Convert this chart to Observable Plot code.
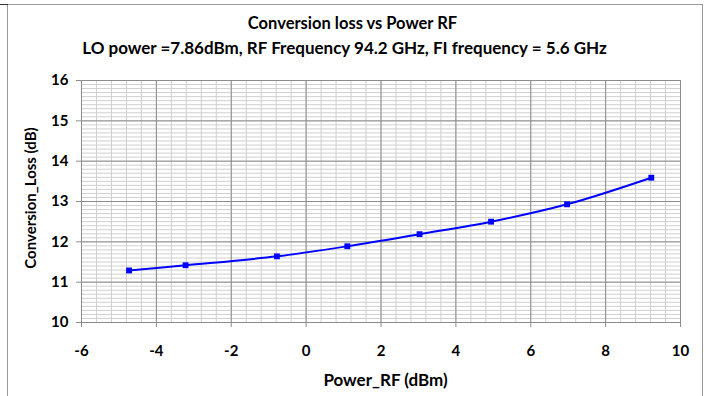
<!DOCTYPE html>
<html>
<head>
<meta charset="utf-8">
<script src="https://cdn.jsdelivr.net/npm/d3@7"></script>
<script src="https://cdn.jsdelivr.net/npm/@observablehq/plot@0.6"></script>
<style>
  html, body { margin: 0; padding: 0; background: #fff; }
  #wrap { position: relative; width: 709px; height: 396px; overflow: hidden; font-family: Lato, "Open Sans", sans-serif; font-weight: bold; }
  #frame { position: absolute; left: 7px; top: 4px; width: 696px; height: 400px; border: 1px solid #9a9a9a; box-sizing: border-box; }
  #corner { position: absolute; left: 0; top: 4px; width: 8px; height: 1px; background: #333; }
  .t { position: absolute; white-space: nowrap; color: #000; }
  #title { left: 0; width: 709px; text-align: center; top: 13px; font-size: 16.5px; margin-left: -2px; }
  #subtitle { left: 0; width: 709px; text-align: center; top: 37px; font-size: 17px; margin-left: -10px; }
  #xlabel { left: 0; width: 709px; text-align: center; top: 369px; font-size: 17px; margin-left: 31px; }
  #ylabel { left: 30px; top: 198px; font-size: 15px; transform: translate(-50%, -50%) rotate(-90deg); }
  svg { position: absolute; left: 0; top: 0; }
</style>
</head>
<body>
<div id="wrap">
  <div id="frame"></div>
  <div id="corner"></div>
  <div class="t" id="title">Conversion loss vs Power RF</div>
  <div class="t" id="subtitle">LO power =7.86dBm, RF Frequency 94.2 GHz, FI frequency = 5.6 GHz</div>
  <div class="t" id="xlabel">Power_RF (dBm)</div>
  <div class="t" id="ylabel">Conversion_Loss (dB)</div>
</div>
<script>
const powerRF = [-4.73, -3.22, -0.78, 1.10, 3.03, 4.94, 6.97, 9.22];
const convLoss = [11.29, 11.42, 11.64, 11.89, 12.19, 12.50, 12.93, 13.59];
const xTicks = [-6, -4, -2, 0, 2, 4, 6, 8, 10];
const yTicks = [10, 11, 12, 13, 14, 15, 16];
const xMinor = d3.range(0, 41).map(i => -6 + i * 0.4);
const yMinor = d3.range(0, 61).map(i => 10 + i * 0.1);

const data = powerRF.map((x, i) => ({x, y: convLoss[i]}));

const chart = Plot.plot({
  width: 709,
  height: 396,
  marginLeft: 81,
  marginRight: 29,
  marginTop: 80,
  marginBottom: 74,
  style: {background: "transparent", fontFamily: "Lato, 'Open Sans', sans-serif", fontWeight: "bold", fontSize: "15px", color: "#000"},
  x: {domain: [-6, 10]},
  y: {domain: [10, 16]},
  marks: [
    Plot.ruleX(xMinor, {stroke: "#cfcfcf", strokeWidth: 1}),
    Plot.ruleY(yMinor, {stroke: "#cfcfcf", strokeWidth: 1}),
    Plot.ruleX(xTicks, {stroke: "#8c8c8c", strokeWidth: 1}),
    Plot.ruleY(yTicks, {stroke: "#8c8c8c", strokeWidth: 1}),
    Plot.axisX({ticks: xTicks, tickFormat: d => String(d), tickSize: 5, tickPadding: 18, stroke: "#8c8c8c", fill: "#000", fontSize: 15, fontWeight: "bold", label: null}),
    Plot.axisY({ticks: yTicks, tickFormat: d => String(d), tickSize: 5, tickPadding: 8, stroke: "#8c8c8c", fill: "#000", fontSize: 15, fontWeight: "bold", label: null}),
    Plot.line(data, {x: "x", y: "y", stroke: "#0000ff", strokeWidth: 2, curve: "catmull-rom"}),
    Plot.dot(data, {x: "x", y: "y", symbol: "square", r: 3.3, fill: "#0000ff", stroke: "none"})
  ]
});
document.getElementById("wrap").appendChild(chart);
</script>
</body>
</html>
